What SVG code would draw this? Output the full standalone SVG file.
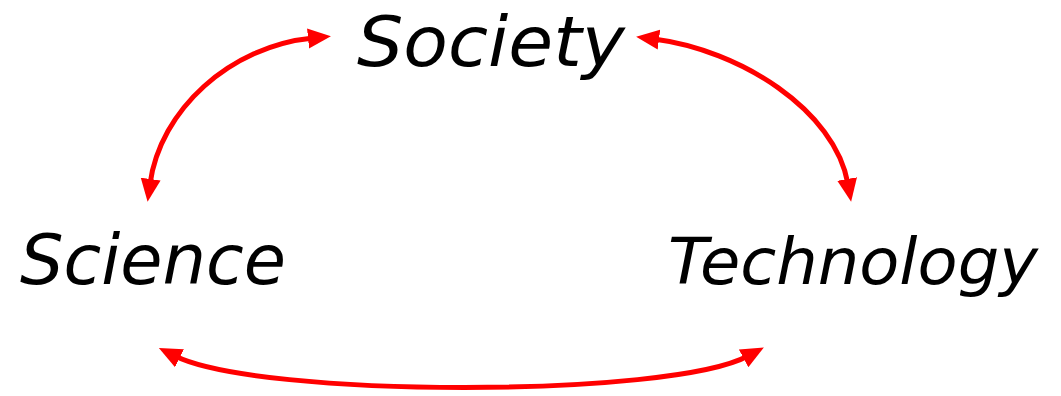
<svg xmlns="http://www.w3.org/2000/svg" width="1061" height="396" viewBox="0 0 1061 396">
<style>
.lbl{font-family:"DejaVu Sans","Liberation Sans",sans-serif;font-style:italic;font-size:70px;fill:#000}
.arc{fill:none;stroke:#FF0000;stroke-width:5;marker-start:url(#ah);marker-end:url(#ah)}
</style>
<defs>
<marker id="ah" markerUnits="userSpaceOnUse" markerWidth="24" markerHeight="22" refX="5" refY="11" orient="auto-start-reverse" viewBox="0 0 24 22">
<path d="M0,1 L23,11 L0,21 Z" fill="#FF0000"/>
</marker>
</defs>
<rect width="1061" height="396" fill="#fff"/>
<g id="society"><text class="lbl" x="357" y="66" textLength="268" lengthAdjust="spacingAndGlyphs">Society</text></g>
<g id="science"><text class="lbl" x="20" y="284" textLength="266" lengthAdjust="spacingAndGlyphs">Science</text></g>
<g id="technology"><text class="lbl" x="668" y="284" style="font-size:64px" textLength="370" lengthAdjust="spacingAndGlyphs">Technology</text></g>
<g id="connectors">
<path class="arc" d="M150,184 C160,110 230,46 313,38"/>
<path class="arc" d="M654,39 C740,50 835,110 848,184"/>
<path class="arc" d="M175,356 C260,398 670,398 748,356"/>
</g>
</svg>
